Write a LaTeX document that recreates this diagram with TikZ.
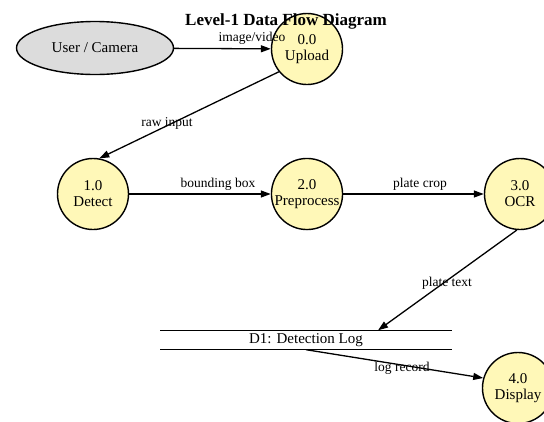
\documentclass[tikz,border=0pt]{standalone}
\usepackage{fontspec}
\setmainfont{Liberation Serif}
\usetikzlibrary{arrows.meta,shapes.geometric}
\definecolor{procfill}{HTML}{FFF8B8}
\definecolor{extfill}{HTML}{DCDCDC}
\tikzset{
  proc/.style={circle, draw, line width=1.4pt, fill=procfill, minimum size=71pt,
               inner sep=0pt, align=center, font=\fontsize{15}{16}\selectfont},
  extent/.style={ellipse, draw, line width=1.4pt, fill=extfill, minimum width=157pt,
                 minimum height=53pt, inner sep=0pt, font=\fontsize{15}{16}\selectfont},
  flow/.style={line width=1.3pt, -{Triangle[length=10pt,width=7pt]}},
  flowlabel/.style={font=\fontsize{13.5}{14}\selectfont, inner sep=0pt},
  storeline/.style={line width=1.4pt}
}
\begin{document}
\begin{tikzpicture}[x=1pt,y=-1pt]
\useasboundingbox (0,0) rectangle (544,421);

% external entity and processes
\node[extent] (user) at (95,48) {User / Camera};
\node[proc] (upload) at (307,49) {0.0\\Upload};
\node[proc] (detect) at (93,194) {1.0\\Detect};
\node[proc] (prep) at (307,194) {2.0\\Preprocess};
\node[proc] (ocr) at (520,194) {3.0\\OCR};
\node[proc] (display) at (518,388) {4.0\\Display};

% data store
\node[minimum width=291pt, minimum height=19pt, inner sep=0pt,
      font=\fontsize{15}{16}\selectfont] (store) at (306,340) {D1: Detection Log};
\draw[storeline] (store.north west) -- (store.north east);
\draw[storeline] (store.south west) -- (store.south east);

% data flows
\draw[flow] (user) -- (upload);
\node[flowlabel] (lvideo) at (252,38) {image/video};

\draw[flow] (upload.-141) -- (detect.80);
\node[flowlabel] (lraw) at (167,123) {raw input};

\draw[flow] (detect) -- (prep);
\node[flowlabel] (lbox) at (218,184) {bounding box};

\draw[flow] (prep) -- (ocr);
\node[flowlabel] (lcrop) at (420,184) {plate crop};

\draw[flow] (ocr.-95) -- ([xshift=72pt]store.north);
\node[flowlabel] (ltext) at (447,283) {plate text};

\draw[flow] (store.south) -- (display.164);
\node[flowlabel] (lrec) at (402,368) {log record};

% title, set on top of everything else
\node[font=\bfseries\fontsize{17}{18}\selectfont] (title) at (286,21) {Level-1 Data Flow Diagram};
\end{tikzpicture}
\end{document}
